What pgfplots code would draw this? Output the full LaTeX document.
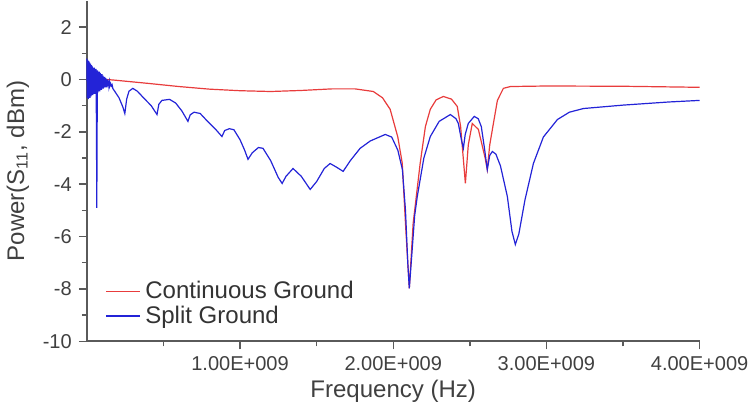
\documentclass[border=0pt]{standalone}
\usepackage{fontspec}
\setmainfont{Liberation Sans}
\usepackage{pgfplots}
\pgfplotsset{compat=1.18}

\definecolor{contred}{RGB}{232,60,60}
\definecolor{splitblue}{RGB}{35,35,215}
\definecolor{axgray}{RGB}{90,90,90}

\begin{document}
\begin{tikzpicture}
\begin{axis}[
    scale only axis,
    width=306pt, height=170pt,
    xmin=0, xmax=4e9,
    ymin=-10, ymax=3,
    axis lines=left,
    axis line style={-, axgray, line width=0.9pt},
    tick style={axgray, line width=0.7pt},
    tick align=outside,
    major tick length=4pt, minor tick length=2.5pt,
    xtick={1e9,2e9,3e9,4e9},
    xticklabels={1.00E+009,2.00E+009,3.00E+009,4.00E+009},
    minor xtick={0.5e9,1.5e9,2.5e9,3.5e9},
    ytick={-10,-8,-6,-4,-2,0,2},
    minor ytick={-9,-7,-5,-3,-1,1},
    scaled x ticks=false,
    /pgf/number format/assume math mode=true,
    ticklabel style={font=\fontsize{10}{12}\selectfont, text=black!75},
    xlabel={Frequency (Hz)},
    ylabel={Power(S\textsubscript{11}, dBm)},
    label style={font=\fontsize{12}{14}\selectfont, text=black!75},
    xlabel style={yshift=2pt},
    legend style={draw=none, fill=none, at={(0.02,0.02)}, anchor=south west,
        font=\fontsize{12}{14}\selectfont, text=black!80, row sep=-2pt},
    legend cell align=left,
    legend image post style={line width=0.8pt},
    clip=false,
]

% Continuous ground (red)
\addplot[contred, line width=0.6pt] coordinates {
(0.0e9,0.05) (0.17e9,-0.02) (0.4e9,-0.15) (0.6e9,-0.27) (0.8e9,-0.37)
(1.0e9,-0.43) (1.2e9,-0.46) (1.4e9,-0.42) (1.6e9,-0.36) (1.75e9,-0.36)
(1.87e9,-0.46) (1.93e9,-0.7) (1.98e9,-1.14) (2.03e9,-2.2) (2.059e9,-3.2)
(2.08e9,-5.5) (2.105e9,-7.98) (2.13e9,-5.5) (2.176e9,-3.2) (2.21e9,-1.8)
(2.242e9,-1.14) (2.28e9,-0.78) (2.327e9,-0.65) (2.38e9,-0.75) (2.418e9,-1.03)
(2.44e9,-1.8) (2.471e9,-3.97) (2.49e9,-2.5) (2.516e9,-1.68) (2.556e9,-1.91)
(2.60e9,-3.0) (2.614e9,-3.44) (2.63e9,-2.5) (2.654e9,-1.68) (2.68e9,-0.8)
(2.719e9,-0.34) (2.765e9,-0.27) (3.0e9,-0.25) (3.5e9,-0.26) (4.0e9,-0.30)
};

% Split ground (blue)
\addplot[splitblue, line width=0.6pt] coordinates {
(0.000e9,0.8) (0.003e9,-0.7) (0.006e9,0.75) (0.009e9,-0.75) (0.012e9,0.7)
(0.015e9,-0.7) (0.018e9,0.65) (0.021e9,-0.7) (0.024e9,0.6) (0.027e9,-0.65)
(0.030e9,0.55) (0.033e9,-0.6) (0.036e9,0.5) (0.039e9,-0.6) (0.042e9,0.45)
(0.045e9,-0.55) (0.048e9,0.45) (0.051e9,-0.55) (0.054e9,0.4) (0.057e9,-0.5)
(0.060e9,0.4) (0.063e9,-2.0) (0.065e9,-4.9) (0.067e9,-2.0) (0.069e9,0.35)
(0.072e9,-0.5) (0.075e9,0.3) (0.078e9,-0.45) (0.081e9,0.3) (0.084e9,-0.45)
(0.087e9,0.25) (0.090e9,-0.4) (0.093e9,0.2) (0.096e9,-0.4) (0.099e9,0.2)
(0.102e9,-0.35) (0.105e9,0.15) (0.108e9,-0.35) (0.111e9,0.1) (0.114e9,-0.3)
(0.117e9,0.1) (0.120e9,-0.3) (0.123e9,0.05) (0.126e9,-0.3) (0.129e9,0.0)
(0.132e9,-0.3) (0.135e9,0.0) (0.138e9,-0.25) (0.141e9,-0.05) (0.144e9,-0.25)
(0.147e9,-0.1) (0.150e9,-0.25) (0.155e9,-0.15) (0.160e9,-0.25) (0.165e9,-0.2)
(0.170e9,-0.35) (0.183e9,-0.46) (0.21e9,-0.7) (0.235e9,-1.05) (0.248e9,-1.30)
(0.26e9,-0.75) (0.275e9,-0.45) (0.30e9,-0.34) (0.33e9,-0.45) (0.37e9,-0.7)
(0.42e9,-1.0) (0.458e9,-1.34) (0.47e9,-0.95) (0.49e9,-0.8) (0.54e9,-0.76)
(0.58e9,-0.9) (0.62e9,-1.2) (0.66e9,-1.60) (0.675e9,-1.35) (0.70e9,-1.25)
(0.74e9,-1.30) (0.78e9,-1.55) (0.84e9,-1.9) (0.882e9,-2.18) (0.90e9,-1.95)
(0.93e9,-1.88) (0.96e9,-1.92) (1.00e9,-2.3) (1.03e9,-2.7) (1.052e9,-3.05)
(1.08e9,-2.8) (1.12e9,-2.6) (1.15e9,-2.63) (1.20e9,-3.1) (1.25e9,-3.75)
(1.275e9,-3.97) (1.30e9,-3.7) (1.346e9,-3.40) (1.40e9,-3.7) (1.458e9,-4.20)
(1.50e9,-3.9) (1.55e9,-3.4) (1.588e9,-3.21) (1.63e9,-3.35) (1.673e9,-3.51)
(1.72e9,-3.1) (1.784e9,-2.63) (1.85e9,-2.35) (1.948e9,-2.10) (1.99e9,-2.2)
(2.03e9,-2.7) (2.06e9,-3.44) (2.08e9,-5.0) (2.095e9,-7.0) (2.105e9,-7.98)
(2.12e9,-6.8) (2.14e9,-5.2) (2.157e9,-4.47) (2.20e9,-3.0) (2.242e9,-2.18)
(2.30e9,-1.6) (2.373e9,-1.34) (2.41e9,-1.5) (2.425e9,-1.68) (2.445e9,-2.3)
(2.458e9,-2.63) (2.47e9,-2.1) (2.49e9,-1.68) (2.529e9,-1.41) (2.555e9,-1.5)
(2.575e9,-1.8) (2.595e9,-2.6) (2.614e9,-3.44) (2.63e9,-2.9) (2.647e9,-2.75)
(2.67e9,-2.85) (2.70e9,-3.3) (2.745e9,-4.47) (2.775e9,-5.8) (2.797e9,-6.30)
(2.82e9,-5.9) (2.86e9,-4.6) (2.915e9,-3.21) (2.98e9,-2.2) (3.072e9,-1.53)
(3.15e9,-1.25) (3.242e9,-1.11) (3.5e9,-0.98) (3.8e9,-0.86) (4.0e9,-0.80)
};

\legend{Continuous Ground, Split Ground}
\end{axis}
\end{tikzpicture}
\end{document}
